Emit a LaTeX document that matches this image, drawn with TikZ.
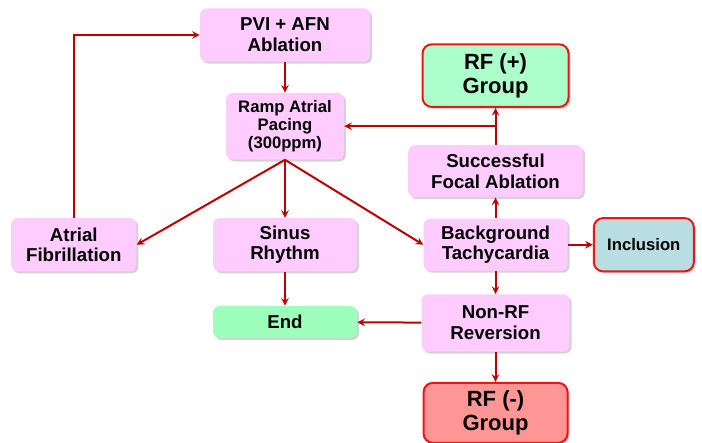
\documentclass[tikz,border=0pt]{standalone}
\usepackage{fontspec}
\setmainfont{Liberation Sans}
\usepackage{xcolor}
\usepackage{tikz}
\usetikzlibrary{arrows, positioning, shadows}
\definecolor{stagebg}{RGB}{255,204,255}
\definecolor{posbg}{RGB}{172,255,202}
\definecolor{endbg}{RGB}{158,255,188}
\definecolor{negbg}{RGB}{255,150,150}
\definecolor{inclbg}{RGB}{184,222,226}
\definecolor{boxred}{RGB}{240,20,20}
\definecolor{linkred}{RGB}{192,0,0}

\begin{document}
\begin{tikzpicture}[
    x=0.75pt, y=-0.75pt,
    node distance=20pt and 20pt,
    stage/.style={rectangle, draw=none, fill=stagebg, rounded corners=5pt, inner sep=0pt, align=center, font=\bfseries\fontsize{14}{15.5}\selectfont, drop shadow={shadow xshift=1.5pt, shadow yshift=-1.5pt, opacity=0.35}},
    outcome/.style={rectangle, draw=boxred, line width=1.5pt, rounded corners=7pt, inner sep=0pt, align=center, font=\bfseries\fontsize{16.5}{18}\selectfont, drop shadow={shadow xshift=1.5pt, shadow yshift=-1.5pt, opacity=0.35}},
    edge/.style={->, >=stealth, line width=1.5pt, draw=linkred}
]
\useasboundingbox (0,0) rectangle (702,442);

% Nodes
\node[stage, minimum width=127.5pt, minimum height=40pt] (pvi) at (285,35) {PVI + AFN\\Ablation};
\node[stage, minimum width=88.5pt, minimum height=50pt, below=23pt of pvi, font=\bfseries\fontsize{12.5}{13.5}\selectfont] (ramp) {Ramp Atrial\\Pacing\\(300ppm)};
\node[stage, minimum width=108pt, minimum height=40pt, below=43.5pt of ramp] (sinus) {Sinus\\Rhythm};
\node[stage, minimum width=94pt, minimum height=40pt, left=57pt of sinus] (afib) {Atrial\\Fibrillation};
\node[stage, fill=endbg, minimum width=108pt, minimum height=24pt, below=25.5pt of sinus] (end) {End};
\node[stage, minimum width=108pt, minimum height=39pt, right=49.5pt of sinus] (tachy) {Background\\Tachycardia};
\node[stage, minimum width=131pt, minimum height=39pt, above=15.75pt of tachy] (focal) {Successful\\Focal Ablation};
\node[outcome, fill=posbg, minimum width=109.5pt, minimum height=47pt, above=27.75pt of focal] (rfpos) {RF (+)\\Group};
\node[outcome, fill=inclbg, minimum width=75pt, minimum height=40pt, right=18.75pt of tachy, font=\bfseries\fontsize{12.5}{14}\selectfont] (incl) {Inclusion};
\node[stage, minimum width=111pt, minimum height=43pt, below=17.25pt of tachy] (nonrf) {Non-RF\\Reversion};
\node[outcome, fill=negbg, minimum width=108pt, minimum height=45pt, below=22.5pt of nonrf] (rfneg) {RF (-)\\Group};
\coordinate (split) at (focal.north |- ramp.east);

% Edges
\draw[edge] (pvi) -- (ramp);
\draw[edge] (ramp.south) -- (afib.east);
\draw[edge] (ramp.south) -- (sinus.north);
\draw[edge] (ramp.south) -- (tachy.west);
\draw[edge] (afib.north) |- (pvi.west);
\draw[edge] (sinus) -- (end);
\draw[edge] (tachy) -- (focal);
\draw[edge] (focal) -- (rfpos);
\draw[edge] (split) -- (ramp.east);
\draw[edge] (tachy) -- (incl);
\draw[edge] (tachy) -- (nonrf);
\draw[edge] (nonrf) -- (end);
\draw[edge] (nonrf) -- (rfneg);

\end{tikzpicture}
\end{document}
